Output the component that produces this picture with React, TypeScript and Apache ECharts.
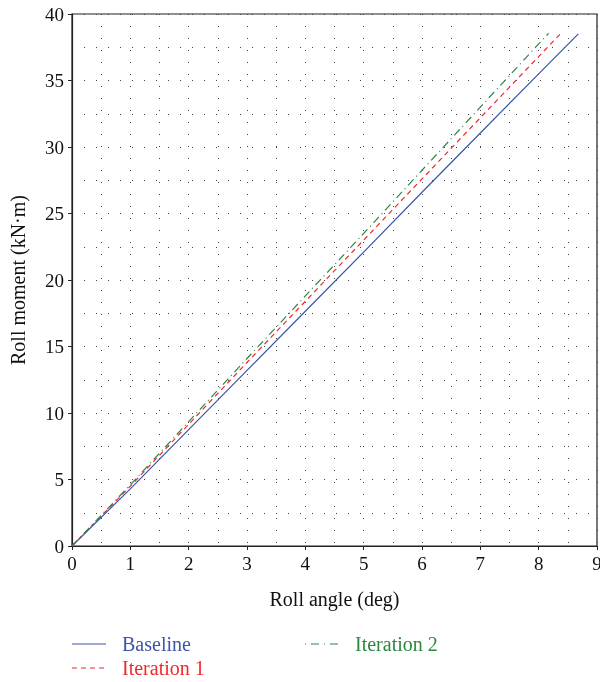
import React, { useEffect, useRef } from "react";
import * as echarts from "echarts";

const baseline: [number, number][] = [
  [0, 0], [1, 4.3], [2, 8.75], [3, 13.2], [4, 17.65], [5, 22.1], [6, 26.6], [7, 31.05], [8, 35.5], [8.68, 38.5],
];
const iteration1: [number, number][] = [
  [0, 0], [1, 4.5], [2, 9.15], [3, 13.8], [4, 18.4], [5, 23.0], [6, 27.6], [7, 32.2], [8, 36.8], [8.37, 38.5],
];
const iteration2: [number, number][] = [
  [0, 0], [1, 4.6], [2, 9.35], [3, 14.1], [4, 18.8], [5, 23.5], [6, 28.25], [7, 33.0], [8, 37.75], [8.17, 38.55],
];
const seriesNames = ["Baseline", "Iteration 1", "Iteration 2"];
const colors = ["#3a56a8", "#f0282a", "#2e8540"];

const FONT = "Liberation Serif";

export default function App() {
  const ref = useRef<HTMLDivElement>(null);
  useEffect(() => {
    if (!ref.current) return;
    const chart = echarts.init(ref.current, undefined, { renderer: "svg" });
    const gridLine = { show: true, lineStyle: { color: "#444", width: 1, type: [1, 11] as any } };
    const legendItems: any[] = [];
    const legendPos = [
      { x: 72, y: 644, dash: "solid" as any },
      { x: 72, y: 668, dash: [5, 4] as any },
      { x: 305, y: 644, dash: [1, 5, 8, 5] as any },
    ];
    seriesNames.forEach((n, i) => {
      const p = legendPos[i];
      legendItems.push({
        type: "line",
        shape: { x1: p.x, y1: p.y, x2: p.x + 34, y2: p.y },
        style: { stroke: colors[i], lineWidth: 1.2, lineDash: p.dash === "solid" ? null : p.dash },
      });
      legendItems.push({
        type: "text",
        x: p.x + 50,
        y: p.y,
        style: { text: n, fill: colors[i], font: `20px '${FONT}'`, textVerticalAlign: "middle" },
      });
    });
    chart.setOption({
      animation: false,
      grid: {
        left: 72, right: 3, top: 14, bottom: 136,
        outerBoundsMode: "none", containLabel: false,
        show: true, borderColor: "#222", borderWidth: 1.2,
      },
      xAxis: {
        type: "value",
        min: 0,
        max: 9,
        interval: 1,
        name: "Roll angle (deg)",
        nameLocation: "middle",
        nameGap: 43,
        nameTextStyle: { fontFamily: FONT, fontSize: 20, color: "#111" },
        axisLine: { show: true, lineStyle: { color: "#222", width: 1.2 } },
        axisTick: { show: true, length: 4, lineStyle: { color: "#222" } },
        axisLabel: { fontFamily: FONT, fontSize: 19, color: "#111", margin: 8 },
        splitLine: gridLine,
        minorTick: { show: false, splitNumber: 2 },
        minorSplitLine: gridLine,
      },
      yAxis: {
        type: "value",
        min: 0,
        max: 40,
        interval: 5,
        name: "Roll moment (kN·m)",
        nameLocation: "middle",
        nameGap: 44,
        nameTextStyle: { fontFamily: FONT, fontSize: 20, color: "#111" },
        axisLine: { show: true, lineStyle: { color: "#222", width: 1.2 } },
        axisTick: { show: true, length: 4, lineStyle: { color: "#222" } },
        axisLabel: { fontFamily: FONT, fontSize: 19, color: "#111", margin: 8 },
        splitLine: gridLine,
        minorTick: { show: false, splitNumber: 2 },
        minorSplitLine: gridLine,
      },
      series: [
        {
          name: seriesNames[0], type: "line", data: baseline, showSymbol: false,
          lineStyle: { color: colors[0], width: 1.2, type: "solid" },
        },
        {
          name: seriesNames[1], type: "line", data: iteration1, showSymbol: false,
          lineStyle: { color: colors[1], width: 1.2, type: [5, 4] },
        },
        {
          name: seriesNames[2], type: "line", data: iteration2, showSymbol: false,
          lineStyle: { color: colors[2], width: 1.2, type: [8, 4, 1, 4] },
        },
      ],
      graphic: legendItems,
    });
    return () => chart.dispose();
  }, []);
  return <div ref={ref} style={{ position: "fixed", left: 0, top: 0, width: 600, height: 682 }} />;
}
